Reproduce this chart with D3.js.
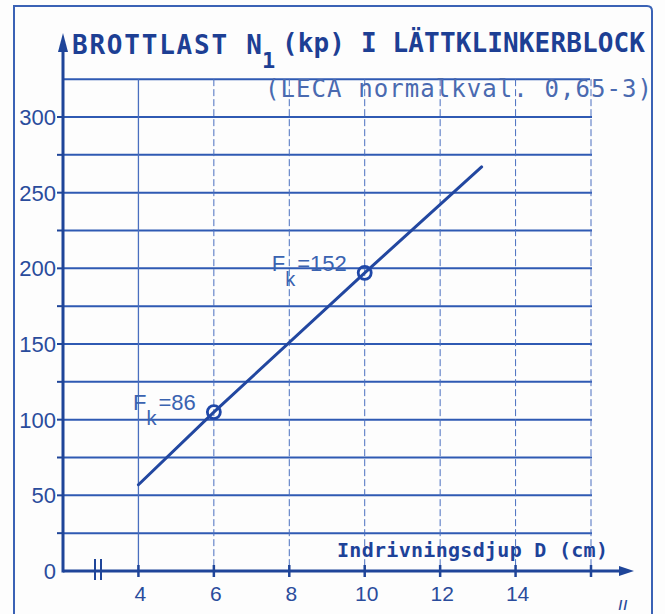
<!DOCTYPE html>
<html>
<head>
<meta charset="utf-8">
<script src="https://cdn.jsdelivr.net/npm/d3@7"></script>
<style>
  html, body { margin: 0; padding: 0; background: #fdfdfd; }
  svg { display: block; }
</style>
</head>
<body>
<svg id="chart" width="665" height="614"></svg>
<script>
// ---- data ----
const titleMain = "BROTTLAST N";
const titleSub = "1";
const titleRest = "(kp) I LÄTTKLINKERBLOCK";
const subtitle = "(LECA normalkval. 0,65-3)";
const xAxisTitle = "Indrivningsdjup D (cm)";
const xTicks = [4, 6, 8, 10, 12, 14, 16];
const xTickLabels = ["4", "6", "8", "10", "12", "14", ""];
const yTicks = [0, 50, 100, 150, 200, 250, 300];
const yGrid = [25, 50, 75, 100, 125, 150, 175, 200, 225, 250, 275, 300, 325];
const lineX = [4, 6, 10, 13.1];
const lineY = [57, 105, 197, 267];
const markerX = [6, 10];
const markerY = [105, 197];
const markerLabels = ["86", "152"];

// ---- drawing ----
const svg = d3.select("#chart");
const blue = "#2f5ab3";
const dark = "#1f4599";
const textBlue = "#2a4c9c";

const x = d3.scaleLinear().domain([2, 16]).range([63, 591]);
const y = d3.scaleLinear().domain([0, 300]).range([571, 117]);

// frame
svg.append("path")
  .attr("d", "M14,614 L14,6 L647,6 Q652,6 652,11 L652,614")
  .attr("fill", "none").attr("stroke", "#3a62b5").attr("stroke-width", 2);

// horizontal grid
svg.append("g").selectAll("line").data(yGrid).join("line")
  .attr("x1", x(2)).attr("x2", d => d === 325 ? 590 : 592)
  .attr("y1", d => y(d)).attr("y2", d => y(d))
  .attr("stroke", blue).attr("stroke-width", 2);

// vertical grid (dashed)
svg.append("g").selectAll("line").data(xTicks).join("line")
  .attr("x1", d => x(d)).attr("x2", d => x(d))
  .attr("y1", y(325)).attr("y2", y(0))
  .attr("stroke", "#4a6fbf").attr("stroke-width", d => d === 4 ? 1.3 : 1)
  .attr("stroke-dasharray", d => d === 4 ? null : "7,3");

// axes
const axisG = svg.append("g");
axisG.append("line").attr("x1", x(2)).attr("x2", 622).attr("y1", y(0)).attr("y2", y(0))
  .attr("stroke", dark).attr("stroke-width", 3);
axisG.append("path").attr("d", `M634,${y(0)} L619,${y(0) - 5} L619,${y(0) + 5} Z`).attr("fill", dark);
axisG.append("line").attr("x1", x(2)).attr("x2", x(2)).attr("y1", y(0) + 1.5).attr("y2", 48)
  .attr("stroke", dark).attr("stroke-width", 3);
axisG.append("path").attr("d", `M${x(2)},33 L${x(2) - 5},52 L${x(2) + 5},52 Z`).attr("fill", dark);

// y ticks (minor every 25)
svg.append("g").selectAll("line").data(yGrid.filter(d => d <= 300)).join("line")
  .attr("x1", x(2) - 6).attr("x2", x(2)).attr("y1", d => y(d)).attr("y2", d => y(d))
  .attr("stroke", dark).attr("stroke-width", 2);

// x ticks
svg.append("g").selectAll("line").data(xTicks).join("line")
  .attr("x1", d => x(d)).attr("x2", d => x(d)).attr("y1", y(0) - 6).attr("y2", y(0) + 6)
  .attr("stroke", dark).attr("stroke-width", 2.5);

// axis break marks
svg.append("g").selectAll("line").data([95, 101]).join("line")
  .attr("x1", d => d).attr("x2", d => d).attr("y1", y(0) - 12).attr("y2", y(0) + 9)
  .attr("stroke", dark).attr("stroke-width", 2);

// y tick labels
svg.append("g").selectAll("text").data(yTicks).join("text")
  .attr("x", 56).attr("y", d => y(d) + 8)
  .attr("text-anchor", "end")
  .attr("font-family", "'Liberation Sans', Arial, sans-serif")
  .attr("font-size", 22).attr("fill", textBlue)
  .text(d => d);

// x tick labels
svg.append("g").selectAll("text").data(xTicks).join("text")
  .attr("x", (d) => x(d) + 2).attr("y", 601)
  .attr("text-anchor", "middle")
  .attr("font-family", "'Liberation Sans', Arial, sans-serif")
  .attr("font-size", 21).attr("fill", textBlue)
  .text((d, i) => xTickLabels[i]);

// data line
svg.append("path")
  .datum(lineX.map((d, i) => [d, lineY[i]]))
  .attr("d", d3.line().x(d => x(d[0])).y(d => y(d[1])))
  .attr("fill", "none").attr("stroke", "#2247a0").attr("stroke-width", 3)
  .attr("stroke-linecap", "round");

// markers
svg.append("g").selectAll("circle").data(markerX).join("circle")
  .attr("cx", d => x(d)).attr("cy", (d, i) => y(markerY[i])).attr("r", 6.5)
  .attr("fill", "none").attr("stroke", "#1f47a8").attr("stroke-width", 2.8);

// marker labels F_k=...
const lbl = svg.append("g").selectAll("text").data(markerX).join("text")
  .attr("x", d => x(d) - 18).attr("y", (d, i) => y(markerY[i]) - 2)
  .attr("text-anchor", "end")
  .attr("font-family", "'Liberation Sans', Arial, sans-serif")
  .attr("font-size", 22).attr("fill", "#3a63b0");
lbl.append("tspan").text("F");
lbl.append("tspan").attr("dy", 15).attr("font-size", 20).text("k");
lbl.append("tspan").attr("dx", 2).attr("dy", -15).text((d, i) => "=" + markerLabels[i]);

// title
const t = svg.append("text")
  .attr("font-family", "'DejaVu Sans Mono', monospace")
  .attr("font-weight", "bold").attr("font-size", 26).attr("fill", "#1d3f94");
t.append("tspan").attr("x", 72).attr("y", 54).attr("textLength", 190).attr("lengthAdjust", "spacing").text(titleMain);
t.append("tspan").attr("x", 262).attr("y", 68).attr("font-size", 22).text(titleSub);
t.append("tspan").attr("x", 282).attr("y", 52).attr("textLength", 363).attr("lengthAdjust", "spacing").text(titleRest);

// subtitle
svg.append("text")
  .attr("x", 265).attr("y", 97)
  .attr("font-family", "'DejaVu Sans Mono', monospace")
  .attr("font-size", 24).attr("fill", "#4a6ab0")
  .attr("textLength", 387).attr("lengthAdjust", "spacing")
  .text(subtitle);

// x axis title
svg.append("text")
  .attr("x", 337).attr("y", 557)
  .attr("font-family", "'DejaVu Sans Mono', monospace")
  .attr("font-weight", "bold").attr("font-size", 20).attr("fill", "#1d4299")
  .attr("textLength", 271).attr("lengthAdjust", "spacing")
  .text(xAxisTitle);

// corner scribble
svg.append("text")
  .attr("x", 618).attr("y", 610)
  .attr("font-family", "'DejaVu Sans', sans-serif")
  .attr("font-style", "italic").attr("font-size", 18).attr("fill", "#2a4c9c")
  .text("ıı");
</script>
</body>
</html>
